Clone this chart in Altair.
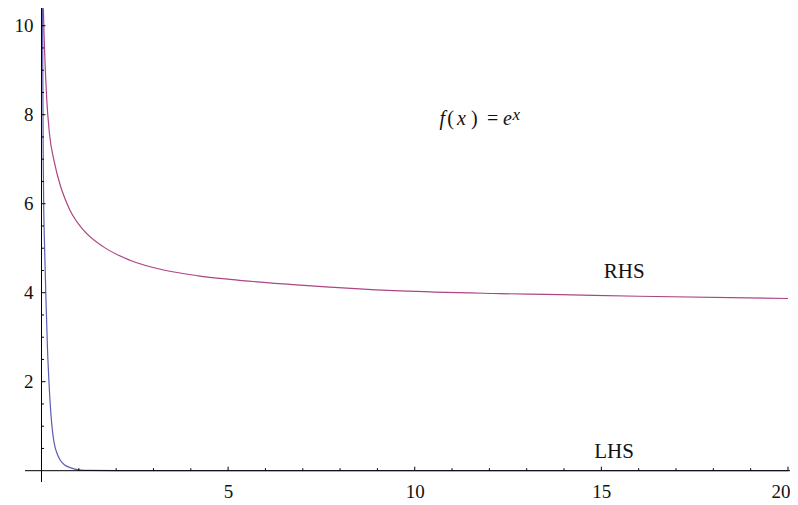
import altair as alt
import pandas as pd

# ---- data ----
lhs_x = [0.028, 0.035, 0.045, 0.06, 0.085, 0.12, 0.16, 0.20, 0.25, 0.30, 0.34, 0.42,
         0.50, 0.62, 0.77, 1.0, 1.3, 2.0, 3.0, 5.0, 10.0, 15.0, 20.0]
lhs_y = [10.6, 9.0, 7.2, 5.9, 4.96, 3.84, 2.75, 2.0, 1.3, 0.85, 0.62, 0.38,
         0.24, 0.13, 0.07, 0.02, 0.006, 0.001, 0.0, 0.0, 0.0, 0.0, 0.0]

rhs_x = [0.05, 0.07, 0.10, 0.14, 0.21, 0.34, 0.50, 0.66, 0.76, 1.12, 1.66, 2.37,
         3.27, 4.2, 5.05, 6.93, 9.61, 12.29, 13.9, 16.0, 20.0]
rhs_y = [10.39, 9.75, 9.05, 8.35, 7.6, 6.95, 6.42, 6.05, 5.86, 5.41, 5.03, 4.73,
         4.51, 4.38, 4.30, 4.17, 4.04, 3.98, 3.955, 3.92, 3.87]

x_major = [5, 10, 15, 20]
x_minor = [1, 2, 3, 4, 6, 7, 8, 9, 11, 12, 13, 14, 16, 17, 18, 19]
y_major = [2, 4, 6, 8, 10]
y_minor = [0.5, 1, 1.5, 2.5, 3, 3.5, 4.5, 5, 5.5, 6.5, 7, 7.5, 8.5, 9, 9.5, 10.5]

series_names = ["LHS", "RHS"]
series_colors = ["#5c5cb2", "#ab4584"]

# series label text and positions (data coordinates)
label_text = ["RHS", "LHS"]
label_x = [15.61, 15.34]
label_y = [4.32, 0.28]

# ---- layout ----
X_DOM = [-0.174, 20.054]
Y_DOM = [-0.254, 10.578]
W, H = 755, 482
FONT = "Liberation Serif"
FS = 19

xs = alt.Scale(domain=X_DOM, nice=False, zero=False)
ys = alt.Scale(domain=Y_DOM, nice=False, zero=False)

AX_X = alt.Axis(values=x_major, format="d", domain=False, ticks=False, grid=False, title=None,
                labelPadding=0, labelFont=FONT, labelFontSize=FS, labelColor="#111",
                labelFlush=False, labelOverlap=False,
                labelAlign={"expr": "datum.value == 20 ? 'right' : 'center'"},
                labelOffset={"expr": "datum.value == 20 ? 2 : 0"})
AX_Y = alt.Axis(values=y_major, format="d", domain=False, ticks=False, grid=False, title=None,
                labelPadding=2, labelFont=FONT, labelFontSize=FS, labelColor="#111",
                labelFlush=False, labelOverlap=False)


def X(field):
    return alt.X(field, scale=xs, axis=AX_X, title=None)


def Y(field):
    return alt.Y(field, scale=ys, axis=AX_Y, title=None)


curves = pd.concat([
    pd.DataFrame({"x": lhs_x, "y": lhs_y, "s": "LHS", "o": range(len(lhs_x))}),
    pd.DataFrame({"x": rhs_x, "y": rhs_y, "s": "RHS", "o": range(len(rhs_x))}),
])

lines = alt.Chart(curves).mark_line(strokeWidth=1.2, interpolate="monotone", clip=True).encode(
    x=X("x:Q"),
    y=Y("y:Q"),
    color=alt.Color("s:N", scale=alt.Scale(domain=series_names, range=series_colors), legend=None),
    order="o:Q",
)

# axis lines crossing at the origin
x_line = alt.Chart(pd.DataFrame({"x": [-0.442], "x2": [X_DOM[1]], "y": [0]})).mark_rule(
    color="black", strokeWidth=1).encode(x=X("x:Q"), x2="x2:Q", y=Y("y:Q"))
y_line = alt.Chart(pd.DataFrame({"x": [0], "y": [Y_DOM[0]], "y2": [Y_DOM[1]]})).mark_rule(
    color="black", strokeWidth=1).encode(x=X("x:Q"), y=Y("y:Q"), y2="y2:Q")

# tick marks at the origin axes, pointing inward
XT_MAJ, XT_MIN = 4 / 44.5, 2.5 / 44.5
YT_MAJ, YT_MIN = 4 / 37.32, 2.5 / 37.32
xt = pd.concat([
    pd.DataFrame({"x": x_major, "y": 0.0, "y2": XT_MAJ}),
    pd.DataFrame({"x": x_minor, "y": 0.0, "y2": XT_MIN}),
])
yt = pd.concat([
    pd.DataFrame({"y": y_major, "x": 0.0, "x2": YT_MAJ}),
    pd.DataFrame({"y": y_minor, "x": 0.0, "x2": YT_MIN}),
])
x_ticks = alt.Chart(xt).mark_rule(color="black", strokeWidth=1).encode(
    x=X("x:Q"), y=Y("y:Q"), y2="y2:Q")
y_ticks = alt.Chart(yt).mark_rule(color="black", strokeWidth=1).encode(
    x=X("x:Q"), x2="x2:Q", y=Y("y:Q"))

# series labels
labels = pd.DataFrame({"t": label_text, "x": label_x, "y": label_y})
label_layer = alt.Chart(labels).mark_text(font=FONT, fontSize=21, color="#111", align="center",
                                          baseline="alphabetic").encode(
    x=X("x:Q"), y=Y("y:Q"), text="t:N")

# formula f(x) = e^x
fx_anchor = pd.DataFrame({"x": [10.59], "y": [7.78]})
pieces = [("f", 5.6, 0, "italic", 20), ("(", 13.8, 0, "normal", 20), ("x", 24.8, 0, "italic", 20),
          (")", 37.5, 0, "normal", 20), ("=", 55.8, 0, "normal", 20), ("e", 70.8, 0, "italic", 20),
          ("x", 79.5, -5, "italic", 17)]
formula_layers = []
for txt, dx, dy, style, size in pieces:
    formula_layers.append(
        alt.Chart(fx_anchor).mark_text(text=txt, font=FONT, fontSize=size, fontStyle=style,
                                       color="#111", align="center", baseline="alphabetic",
                                       dx=dx, dy=dy).encode(
            x=X("x:Q"), y=Y("y:Q")))

chart = alt.layer(lines, x_line, y_line, x_ticks, y_ticks, label_layer, *formula_layers).properties(
    width=W, height=H,
    autosize=alt.AutoSizeParams(type="none"),
    padding={"left": 27, "top": -8, "right": 0, "bottom": 23},
    background="white",
).configure_view(stroke=None)

chart.save("out.html", embed_options={"renderer": "svg", "actions": False})
